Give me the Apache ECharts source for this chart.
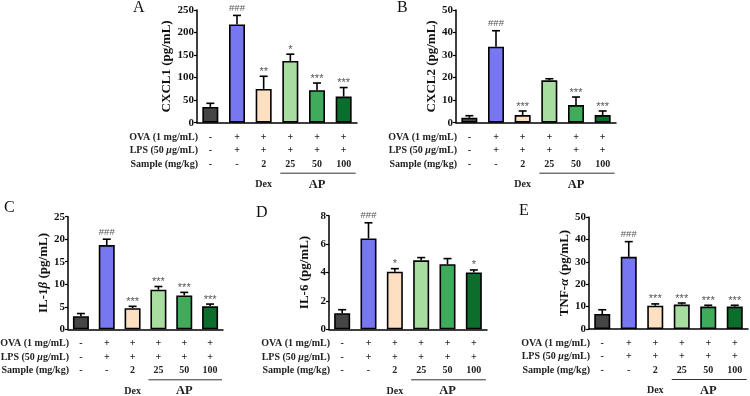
<!DOCTYPE html>
<html><head><meta charset="utf-8">
<script src="https://cdn.jsdelivr.net/npm/echarts@6/dist/echarts.min.js"></script>
<style>html,body{margin:0;padding:0;background:#fff}#c{width:750px;height:396px}</style>
</head><body><div id="c"></div>
<script>
// ---- data ----
const categories = ['Control', 'OVA+LPS', 'Dex 2', 'AP 25', 'AP 50', 'AP 100'];
const ovaRow = ['-', '+', '+', '+', '+', '+'];
const lpsRow = ['-', '+', '+', '+', '+', '+'];
const sampleRow = ['-', '-', '2', '25', '50', '100'];
const rowLabels = ['OVA (1 mg/mL)', 'LPS (50 {i|μ}g/mL)', 'Sample (mg/kg)'];
const groupLabels = ['Dex', 'AP'];
const panelLetters = ['A', 'B', 'C', 'D', 'E'];
const yTitles = ['CXCL1 (pg/mL)', 'CXCL2 (pg/mL)', 'IL-1{i|β} (pg/mL)', 'IL-6 (pg/mL)', 'TNF-{i|α} (pg/mL)'];

const cxcl1Mean = [35, 218, 75, 137, 72, 58];
const cxcl1Err  = [8, 20, 28, 15, 16, 20];
const cxcl1Sig  = ['', '###', '**', '*', '***', '***'];

const cxcl2Mean = [2.2, 33.7, 3.4, 18.8, 7.8, 3.4];
const cxcl2Err  = [0.9, 7.1, 1.8, 0.7, 3.6, 1.8];
const cxcl2Sig  = ['', '###', '***', '', '***', '***'];

const il1bMean = [2.9, 18.7, 4.7, 8.8, 7.5, 5.1];
const il1bErr  = [0.6, 1.3, 0.4, 0.7, 0.7, 0.5];
const il1bSig  = ['', '###', '***', '***', '***', '***'];

const il6Mean = [1.13, 6.4, 4.06, 4.86, 4.58, 4.0];
const il6Err  = [0.25, 1.1, 0.21, 0.19, 0.4, 0.18];
const il6Sig  = ['', '###', '*', '', '', '*'];

const tnfMean = [6.7, 32.2, 10.4, 10.9, 10.0, 10.0];
const tnfErr  = [1.9, 6.8, 0.8, 0.7, 0.6, 0.6];
const tnfSig  = ['', '###', '***', '***', '***', '***'];

const yMax = [250, 50, 25, 8, 50];
const yStep = [50, 10, 5, 2, 10];

const barColors = ['#454545', '#7777f2', '#fde0c2', '#a7dd9e', '#3fac5c', '#0d6d2d'];

// ---- layout ----
const grids = [
  {left: 197, top: 10, width: 160, height: 112.7},
  {left: 456, top: 10, width: 160, height: 112.7},
  {left: 68, top: 216.7, width: 155, height: 112.6},
  {left: 329, top: 215.7, width: 158, height: 113.6},
  {left: 589, top: 217, width: 159, height: 112}
];
const letterPos = [[133, 0], [397, 0], [4, 200], [256, 205], [519, 203]];

const panels = [
  {mean: cxcl1Mean, err: cxcl1Err, sig: cxcl1Sig},
  {mean: cxcl2Mean, err: cxcl2Err, sig: cxcl2Sig},
  {mean: il1bMean, err: il1bErr, sig: il1bSig},
  {mean: il6Mean, err: il6Err, sig: il6Sig},
  {mean: tnfMean, err: tnfErr, sig: tnfSig}
];

const FONT = 'Liberation Serif';
const chart = echarts.init(document.getElementById('c'), null, {renderer: 'canvas'});

const option = {
  animation: false,
  backgroundColor: '#fff',
  title: panelLetters.map((t, i) => ({
    text: t, left: letterPos[i][0], top: letterPos[i][1], padding: 0,
    textStyle: {fontFamily: FONT, fontSize: 16, fontWeight: 'normal', color: '#111'}
  })),
  grid: grids.map(g => Object.assign({containLabel: false}, g)),
  xAxis: grids.map((g, i) => ({
    type: 'category', gridIndex: i, data: categories,
    axisLine: {lineStyle: {color: '#000', width: 1.5}},
    axisTick: {alignWithLabel: true, length: 3, lineStyle: {color: '#000', width: 1}},
    axisLabel: {
      interval: 0, margin: 7.5, fontFamily: FONT, fontSize: 10, fontWeight: 'bold',
      color: '#222', lineHeight: 13.5,
      formatter: (v, idx) => ovaRow[idx] + '\n' + lpsRow[idx] + '\n' + sampleRow[idx]
    }
  })),
  yAxis: grids.map((g, i) => ({
    type: 'value', gridIndex: i, min: 0, max: yMax[i], interval: yStep[i],
    name: yTitles[i], nameLocation: 'middle', nameGap: 18,
    nameTextStyle: {fontFamily: FONT, fontSize: 13, fontWeight: 'bold', color: '#111',
      rich: {i: {fontFamily: FONT, fontSize: 13, fontWeight: 'bold', fontStyle: 'italic', color: '#111'}}},
    axisLine: {show: true, lineStyle: {color: '#000', width: 1.5}},
    axisTick: {show: true, length: 3, lineStyle: {color: '#000', width: 1.2}},
    splitLine: {show: false},
    axisLabel: {margin: 3, fontFamily: FONT, fontSize: 11, fontWeight: 'bold', color: '#111'}
  })),
  series: []
};

panels.forEach((p, i) => {
  option.series.push({
    type: 'bar', xAxisIndex: i, yAxisIndex: i, barWidth: 16,
    data: p.mean.map((v, k) => ({value: v, itemStyle: {color: barColors[k], borderColor: '#000', borderWidth: 1.6}})),
    itemStyle: {borderColor: '#000', borderWidth: 1.6}
  });
  option.series.push({
    type: 'custom', xAxisIndex: i, yAxisIndex: i, z: 5,
    data: p.mean.map((v, k) => [k, v, p.err[k]]),
    renderItem: (params, api) => {
      const idx = api.value(0), m = api.value(1), e = api.value(2);
      const p0 = api.coord([idx, m]);
      const p1 = api.coord([idx, m + e]);
      const cap = 4;
      const children = [
        {type: 'line', shape: {x1: p0[0], y1: p0[1], x2: p1[0], y2: p1[1]}, style: {stroke: '#000', lineWidth: 1.6}},
        {type: 'line', shape: {x1: p1[0] - cap, y1: p1[1], x2: p1[0] + cap, y2: p1[1]}, style: {stroke: '#000', lineWidth: 1.6}}
      ];
      const s = p.sig[params.dataIndex];
      if (s) {
        const isHash = s.charAt(0) === '#';
        children.push({type: 'text', x: p1[0], y: isHash ? p1[1] - 2 : p1[1] + 1,
          style: {text: s, align: 'center', verticalAlign: 'bottom', fontFamily: 'Liberation Sans',
            fontSize: isHash ? 9.5 : 11, fill: '#555'}});
      }
      return {type: 'group', children};
    }
  });
});

chart.setOption(option);

// ---- table row labels, group underline and group names, positioned from the axes ----
const graphics = [];
panels.forEach((p, i) => {
  const axisY = chart.convertToPixel({yAxisIndex: i}, 0);
  const leftX = grids[i].left;
  rowLabels.forEach((t, r) => {
    graphics.push({type: 'text', x: leftX + 1, y: axisY + 14.3 + r * 13.5,
      style: {text: t, align: 'right', verticalAlign: 'middle', fontFamily: FONT, fontSize: 10, fontWeight: 'bold', fill: '#222',
        rich: {i: {fontFamily: FONT, fontSize: 10, fontWeight: 'bold', fontStyle: 'italic', fill: '#222'}}}});
  });
  const xCat = k => chart.convertToPixel({xAxisIndex: i}, categories[k]);
  graphics.push({type: 'line', shape: {x1: xCat(3) - 10, y1: axisY + 50.5, x2: xCat(5) + 12, y2: axisY + 50.5},
    style: {stroke: '#333', lineWidth: 1}});
  graphics.push({type: 'text', x: xCat(2), y: axisY + 61.8,
    style: {text: groupLabels[0], align: 'center', verticalAlign: 'middle', fontFamily: FONT, fontSize: 10, fontWeight: 'bold', fill: '#222'}});
  graphics.push({type: 'text', x: xCat(4), y: axisY + 61.8,
    style: {text: groupLabels[1], align: 'center', verticalAlign: 'middle', fontFamily: FONT, fontSize: 12.5, fontWeight: 'bold', fill: '#222'}});
});
chart.setOption({graphic: graphics});
</script>
</body></html>
